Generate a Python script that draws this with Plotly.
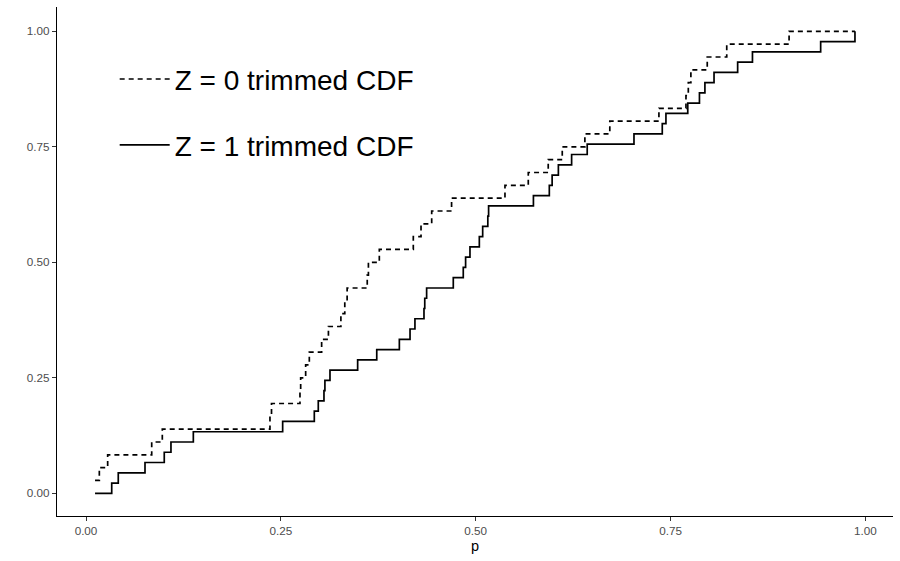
import plotly.graph_objects as go

# Z = 0 trimmed CDF (dashed) step points
z0_x = [0.0116, 0.0171, 0.0278, 0.0843, 0.0979, 0.236, 0.238, 0.2745, 0.2754,
        0.2818, 0.2865, 0.3023, 0.311, 0.327, 0.332, 0.335, 0.3608, 0.3623,
        0.3763, 0.4199, 0.4298, 0.4435, 0.469, 0.5375, 0.5674, 0.593, 0.611,
        0.640, 0.672, 0.735, 0.7697, 0.7727, 0.776, 0.797, 0.822, 0.902, 0.9865]
z0_y = [0.0278, 0.0556, 0.0833, 0.1111, 0.1389, 0.1667, 0.1944, 0.2222, 0.25,
        0.2778, 0.3056, 0.3333, 0.3611, 0.3889, 0.4167, 0.4444, 0.4722, 0.5,
        0.5278, 0.5556, 0.5833, 0.6111, 0.6389, 0.6667, 0.6944, 0.7222, 0.75,
        0.7778, 0.8056, 0.8333, 0.8611, 0.8889, 0.9167, 0.9444, 0.9722, 1.0, 1.0]

# Z = 1 trimmed CDF (solid) step points
z1_x = [0.0116, 0.033, 0.0414, 0.0757, 0.1004, 0.109, 0.1377, 0.2523, 0.2929,
        0.298, 0.3053, 0.3065, 0.313, 0.3485, 0.373, 0.402, 0.4157, 0.422,
        0.4336, 0.4346, 0.437, 0.4712, 0.484, 0.487, 0.4926, 0.5046, 0.5089,
        0.5155, 0.5165, 0.574, 0.5944, 0.598, 0.606, 0.623, 0.643, 0.703,
        0.7393, 0.744, 0.772, 0.787, 0.794, 0.8057, 0.836, 0.855, 0.9425, 0.9865]
z1_y = [0.0, 0.0222, 0.0444, 0.0667, 0.0889, 0.1111, 0.1333, 0.1556, 0.1778,
        0.2, 0.2222, 0.2444, 0.2667, 0.2889, 0.3111, 0.3333, 0.3556, 0.3778,
        0.4, 0.4222, 0.4444, 0.4667, 0.4889, 0.5111, 0.5333, 0.5556, 0.5778,
        0.6, 0.6222, 0.6444, 0.6667, 0.6889, 0.7111, 0.7333, 0.7556, 0.7778,
        0.8, 0.8222, 0.8444, 0.8667, 0.8889, 0.9111, 0.9333, 0.9556, 0.9778, 1.0]

tick_vals = [0.0, 0.25, 0.5, 0.75, 1.0]
tick_text = ["0.00", "0.25", "0.50", "0.75", "1.00"]
labels = ["Z = 0 trimmed CDF", "Z = 1 trimmed CDF"]

FONT = "Liberation Sans, Arial, sans-serif"

fig = go.Figure()
fig.add_trace(go.Scatter(x=z0_x, y=z0_y, mode="lines", line_shape="hv",
                         line=dict(color="black", width=1.7, dash="5px,4px"),
                         name=labels[0], legend="legend"))
fig.add_trace(go.Scatter(x=z1_x, y=z1_y, mode="lines", line_shape="hv",
                         line=dict(color="black", width=1.7),
                         name=labels[1], legend="legend2"))

axis_common = dict(showgrid=False, zeroline=False, showline=True,
                   linecolor="black", linewidth=1.1, ticks="outside",
                   ticklen=4, tickwidth=1.1, tickcolor="#333333",
                   tickfont=dict(family=FONT, size=11.7, color="#4D4D4D"),
                   tickvals=tick_vals, ticktext=tick_text, mirror=False,
                   automargin=False)

legend_common = dict(bgcolor="rgba(0,0,0,0)", borderwidth=0,
                     font=dict(family=FONT, size=28, color="black"),
                     xanchor="left", yanchor="middle", itemwidth=50,
                     itemclick=False)

fig.update_layout(
    width=900, height=561,
    margin=dict(l=57, r=7, t=7, b=45, autoexpand=False),
    paper_bgcolor="white", plot_bgcolor="white",
    xaxis=dict(range=[-0.0372, 1.0353], title=dict(text="p", font=dict(family=FONT, size=14.5, color="black"), standoff=4), **axis_common),
    yaxis=dict(range=[-0.0491, 1.0526], title=None, **axis_common),
    legend=dict(x=0.069, y=0.858, **legend_common),
    legend2=dict(x=0.069, y=0.7285, **legend_common),
    showlegend=True,
)

fig.write_html("out.html",
               config={"displayModeBar": False},
               post_script="document.body.style.margin='0px';document.body.style.padding='0px';")
